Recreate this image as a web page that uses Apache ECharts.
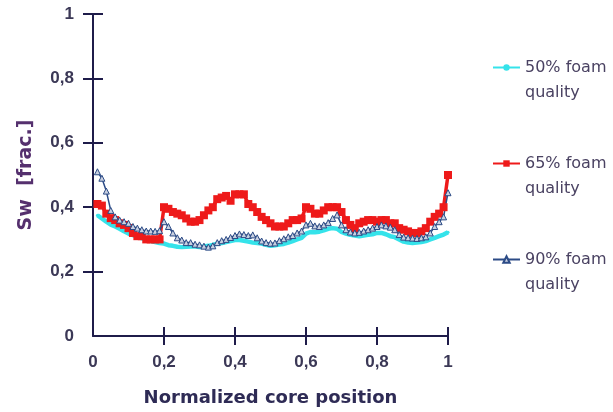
<!DOCTYPE html>
<html>
<head>
<meta charset="utf-8">
<script src="https://cdn.jsdelivr.net/npm/echarts@6/dist/echarts.min.js"></script>
<style>
html,body{margin:0;padding:0;background:#fff;}
#chart{width:613px;height:412px;}
</style>
</head>
<body>
<div id="chart"></div>
<script>
// Normalized core positions
const positions = [
  0.0125,0.025,0.0375,0.05,0.0625,0.075,0.0875,0.1,0.1125,0.125,
  0.1375,0.15,0.1625,0.175,0.1875,0.2,0.2125,0.225,0.2375,0.25,
  0.2625,0.275,0.2875,0.3,0.3125,0.325,0.3375,0.35,0.3625,0.375,
  0.3875,0.4,0.4125,0.425,0.4375,0.45,0.4625,0.475,0.4875,0.5,
  0.5125,0.525,0.5375,0.55,0.5625,0.575,0.5875,0.6,0.6125,0.625,
  0.6375,0.65,0.6625,0.675,0.6875,0.7,0.7125,0.725,0.7375,0.75,
  0.7625,0.775,0.7875,0.8,0.8125,0.825,0.8375,0.85,0.8625,0.875,
  0.8875,0.9,0.9125,0.925,0.9375,0.95,0.9625,0.975,0.9875,1.0
];
const foam50 = [
  0.375,0.365,0.355,0.346,0.34,0.333,0.325,0.318,0.313,0.308,
  0.304,0.298,0.295,0.292,0.289,0.287,0.282,0.28,0.277,0.276,
  0.277,0.278,0.278,0.276,0.278,0.28,0.283,0.287,0.289,0.292,
  0.295,0.298,0.298,0.296,0.293,0.29,0.289,0.287,0.283,0.28,
  0.282,0.284,0.286,0.29,0.295,0.3,0.305,0.318,0.323,0.322,
  0.324,0.328,0.333,0.335,0.333,0.323,0.318,0.314,0.312,0.31,
  0.312,0.314,0.316,0.32,0.32,0.316,0.31,0.307,0.3,0.293,
  0.29,0.289,0.29,0.292,0.295,0.3,0.305,0.31,0.315,0.322
];
const foam65 = [
  0.41,0.405,0.38,0.366,0.36,0.35,0.345,0.335,0.32,0.31,
  0.31,0.3,0.3,0.3,0.3,0.4,0.395,0.385,0.38,0.375,
  0.365,0.355,0.355,0.36,0.375,0.39,0.4,0.425,0.43,0.435,
  0.42,0.44,0.44,0.44,0.41,0.4,0.385,0.37,0.36,0.35,
  0.34,0.34,0.34,0.35,0.36,0.36,0.365,0.4,0.395,0.38,
  0.38,0.39,0.4,0.4,0.4,0.385,0.36,0.345,0.335,0.35,
  0.355,0.36,0.36,0.355,0.36,0.36,0.35,0.35,0.335,0.33,
  0.325,0.32,0.32,0.325,0.335,0.355,0.37,0.38,0.4,0.5
];
const foam90 = [
  0.51,0.49,0.45,0.39,0.37,0.36,0.355,0.35,0.34,0.335,
  0.33,0.326,0.326,0.325,0.327,0.355,0.34,0.32,0.305,0.298,
  0.29,0.29,0.285,0.283,0.279,0.276,0.28,0.29,0.296,0.3,
  0.306,0.312,0.317,0.315,0.312,0.314,0.305,0.295,0.29,0.288,
  0.289,0.296,0.302,0.308,0.312,0.32,0.326,0.345,0.35,0.342,
  0.34,0.345,0.352,0.365,0.376,0.345,0.33,0.323,0.32,0.322,
  0.326,0.33,0.335,0.34,0.345,0.342,0.338,0.33,0.315,0.307,
  0.305,0.304,0.303,0.305,0.308,0.32,0.34,0.355,0.37,0.445
];
const seriesNames = ['50% foam quality','65% foam quality','90% foam quality'];
const legendLines = [['50% foam','quality'],['65% foam','quality'],['90% foam','quality']];
const tickValues = [0.2,0.4,0.6,0.8,1];

const pair = (ys) => positions.map((x, i) => [x, ys[i]]);
const fmt = (v) => String(+v.toFixed(1)).replace('.', ',');

const axisColor = '#1f1c4a';
const labelColor = '#3b3856';
const labelFont = {fontFamily: 'Liberation Sans, Arial, sans-serif', fontWeight: 'bold', fontSize: 17, color: labelColor};

const chart = echarts.init(document.getElementById('chart'), null, {renderer: 'canvas'});
chart.setOption({
  animation: false,
  backgroundColor: '#ffffff',
  grid: {left: 93, right: 165, top: 14, bottom: 76, containLabel: false},
  xAxis: [{
    type: 'value', min: 0, max: 1, interval: 0.2, position: 'bottom',
    name: 'Normalized core position', nameLocation: 'middle', nameGap: 53,
    nameTextStyle: {fontFamily: 'DejaVu Sans', fontWeight: 'bold', fontSize: 18, color: '#2e2b55'},
    axisLine: {show: true, onZero: false, lineStyle: {color: axisColor, width: 2}},
    axisTick: {show: true, inside: false, length: 9, customValues: tickValues, lineStyle: {color: axisColor, width: 2}},
    axisLabel: Object.assign({margin: 18, formatter: fmt}, labelFont),
    splitLine: {show: false}
  }, {
    type: 'value', min: 0, max: 1, interval: 0.2, position: 'bottom', offset: 0,
    axisLine: {show: false, onZero: false},
    axisTick: {show: true, inside: true, length: 9, customValues: tickValues, lineStyle: {color: axisColor, width: 2}},
    axisLabel: {show: false},
    splitLine: {show: false}
  }],
  yAxis: [{
    type: 'value', min: 0, max: 1, interval: 0.2, position: 'left',
    name: 'Sw  [frac.]', nameLocation: 'middle', nameGap: 57,
    nameTextStyle: {fontFamily: 'DejaVu Sans', fontWeight: 'bold', fontSize: 19, color: '#55306e'},
    axisLine: {show: true, onZero: false, lineStyle: {color: axisColor, width: 2}},
    axisTick: {show: true, inside: false, length: 10, customValues: tickValues, lineStyle: {color: axisColor, width: 2}},
    axisLabel: Object.assign({margin: 19, formatter: fmt}, labelFont),
    splitLine: {show: false}
  }, {
    type: 'value', min: 0, max: 1, interval: 0.2, position: 'left', offset: 0,
    axisLine: {show: false, onZero: false},
    axisTick: {show: true, inside: true, length: 10, customValues: tickValues, lineStyle: {color: axisColor, width: 2}},
    axisLabel: {show: false},
    splitLine: {show: false}
  }],
  legend: {
    orient: 'vertical', left: 487, top: 25, itemGap: 21,
    itemWidth: 27, itemHeight: 8,
    data: seriesNames,
    formatter: (name) => {
      const l = legendLines[seriesNames.indexOf(name)];
      return '\n' + l[0] + '\n' + l[1];
    },
    textStyle: {fontFamily: 'DejaVu Sans', fontSize: 16, color: '#4a4262', lineHeight: 25},
    selectedMode: false
  },
  series: [{
    name: seriesNames[0], type: 'line', data: pair(foam50),
    xAxisIndex: 0, yAxisIndex: 0,
    symbol: 'circle', symbolSize: 3, showSymbol: true,
    lineStyle: {color: '#35e3ea', width: 4.5},
    itemStyle: {color: '#35e3ea'}
  }, {
    name: seriesNames[1], type: 'line', data: pair(foam65),
    xAxisIndex: 0, yAxisIndex: 0,
    symbol: 'rect', symbolSize: 8, showSymbol: true,
    lineStyle: {color: '#ee1a1a', width: 3.5},
    itemStyle: {color: '#ee1a1a'}
  }, {
    name: seriesNames[2], type: 'line', data: pair(foam90),
    xAxisIndex: 0, yAxisIndex: 0,
    symbol: 'triangle', symbolSize: 6, showSymbol: true,
    lineStyle: {color: '#2c4b86', width: 1.5},
    itemStyle: {color: '#c9d0e0', borderColor: '#2c4b86', borderWidth: 1}
  }]
});
</script>
</body>
</html>
